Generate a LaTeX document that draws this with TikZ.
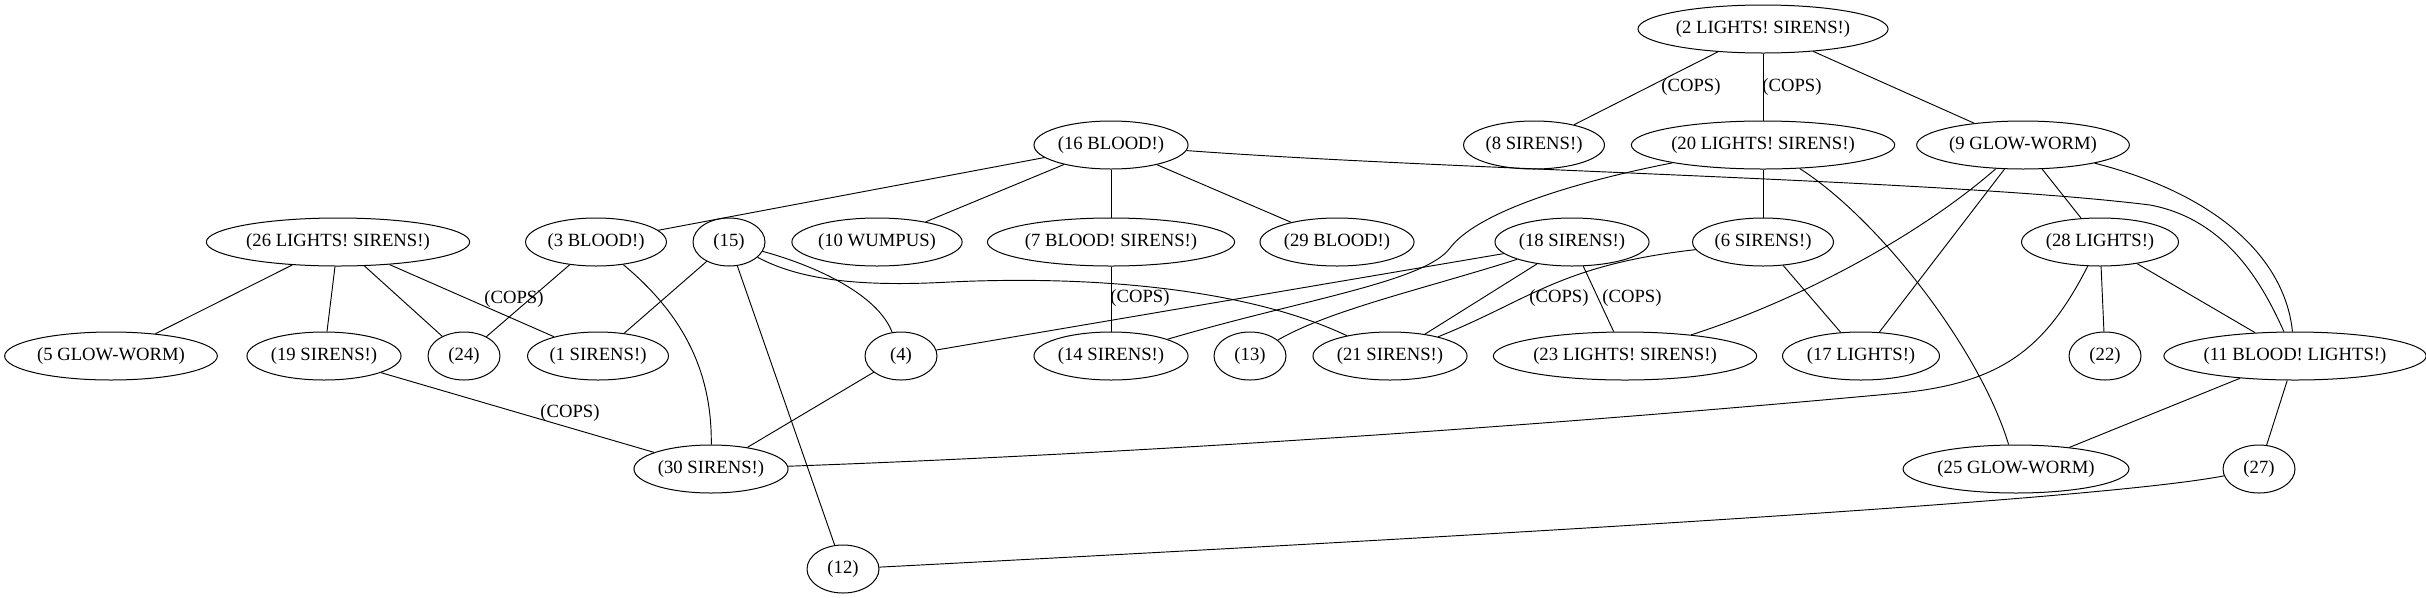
\documentclass[tikz,border=0pt]{standalone}
\usepackage{fontspec}
\setmainfont{Liberation Serif}
\usetikzlibrary{shapes.geometric}

\begin{document}
\begin{tikzpicture}[
  x=0.75pt, y=-0.75pt,
  vtx/.style={draw, ellipse, line width=0.75pt, minimum width=54pt,
              minimum height=36pt, inner sep=1pt,
              font=\fontsize{14}{16}\selectfont},
  lbl/.style={font=\fontsize{14}{16}\selectfont, inner sep=0pt},
  ln/.style={line width=0.7pt}
]
  \useasboundingbox (0,0) rectangle (2426,597);
  \node[vtx] (n2) at (1763,29) {(2 LIGHTS! SIRENS!)};
  \node[vtx] (n16) at (1111,145) {(16 BLOOD!)};
  \node[vtx] (n8) at (1534,145) {(8 SIRENS!)};
  \node[vtx] (n20) at (1763,145) {(20 LIGHTS! SIRENS!)};
  \node[vtx] (n9) at (2023,145) {(9 GLOW-WORM)};
  \node[vtx] (n26) at (338,242) {(26 LIGHTS! SIRENS!)};
  \node[vtx] (n3) at (596,242) {(3 BLOOD!)};
  \node[vtx] (n15) at (729,242) {(15)};
  \node[vtx] (n10) at (877,242) {(10 WUMPUS)};
  \node[vtx] (n7) at (1111,242) {(7 BLOOD! SIRENS!)};
  \node[vtx] (n29) at (1337,242) {(29 BLOOD!)};
  \node[vtx] (n18) at (1572,242) {(18 SIRENS!)};
  \node[vtx] (n6) at (1763,242) {(6 SIRENS!)};
  \node[vtx] (n28) at (2100,242) {(28 LIGHTS!)};
  \node[vtx] (n5) at (111,356) {(5 GLOW-WORM)};
  \node[vtx] (n19) at (324,356) {(19 SIRENS!)};
  \node[vtx] (n24) at (464,356) {(24)};
  \node[vtx] (n1) at (598,356) {(1 SIRENS!)};
  \node[vtx] (n4) at (901,356) {(4)};
  \node[vtx] (n14) at (1111,356) {(14 SIRENS!)};
  \node[vtx] (n13) at (1250,356) {(13)};
  \node[vtx] (n21) at (1390,356) {(21 SIRENS!)};
  \node[vtx] (n23) at (1625,356) {(23 LIGHTS! SIRENS!)};
  \node[vtx] (n17) at (1861,356) {(17 LIGHTS!)};
  \node[vtx] (n22) at (2105,356) {(22)};
  \node[vtx] (n11) at (2295,356) {(11 BLOOD! LIGHTS!)};
  \node[vtx] (n30) at (711,469) {(30 SIRENS!)};
  \node[vtx] (n25) at (2016,469) {(25 GLOW-WORM)};
  \node[vtx] (n27) at (2259,469) {(27)};
  \node[vtx] (n12) at (843,569) {(12)};

  \node[lbl] (c1) at (1691,87) {(COPS)};
  \node[lbl] (c2) at (1792,87) {(COPS)};
  \node[lbl] (c3) at (1140,298) {(COPS)};
  \node[lbl] (c4) at (514,299) {(COPS)};
  \node[lbl] (c5) at (570,413) {(COPS)};
  \node[lbl] (c6) at (1559,298) {(COPS)};
  \node[lbl] (c7) at (1632,298) {(COPS)};

  \draw[ln] (n2) -- (n8);
  \draw[ln] (n2) -- (n20);
  \draw[ln] (n2) -- (n9);
  \draw[ln] (n16) -- (n3);
  \draw[ln] (n16) -- (n10);
  \draw[ln] (n16) -- (n7);
  \draw[ln] (n16) -- (n29);
  \draw[ln] (n16) .. controls (1450,170) and (1950,180) .. (2150,205)
                  .. controls (2230,220) and (2265,290) .. (n11);
  \draw[ln] (n20) -- (n6);
  \draw[ln] (n20) .. controls (1560,185) and (1475,215) .. (1450,248)
                  .. controls (1425,282) and (1300,300) .. (n14);
  \draw[ln] (n20) .. controls (1880,220) and (1980,350) .. (n25);
  \draw[ln] (n9) -- (n28);
  \draw[ln] (n9) .. controls (2220,195) and (2285,260) .. (n11);
  \draw[ln] (n9) .. controls (1920,235) and (1800,300) .. (n23);
  \draw[ln] (n9) -- (n17);
  \draw[ln] (n26) -- (n5);
  \draw[ln] (n26) -- (n19);
  \draw[ln] (n26) -- (n24);
  \draw[ln] (n26) -- (n1);
  \draw[ln] (n3) -- (n24);
  \draw[ln] (n3) .. controls (690,320) and (712,380) .. (n30);
  \draw[ln] (n15) -- (n1);
  \draw[ln] (n15) -- (n12);
  \draw[ln] (n15) .. controls (830,270) and (880,300) .. (n4);
  \draw[ln] (n15) .. controls (800,280) and (860,287) .. (950,282)
                  .. controls (1100,275) and (1250,290) .. (n21);
  \draw[ln] (n7) -- (n14);
  \draw[ln] (n18) -- (n4);
  \draw[ln] (n18) .. controls (1420,290) and (1330,310) .. (n13);
  \draw[ln] (n18) -- (n21);
  \draw[ln] (n18) -- (n23);
  \draw[ln] (n6) .. controls (1560,265) and (1530,300) .. (n21);
  \draw[ln] (n6) -- (n17);
  \draw[ln] (n28) -- (n22);
  \draw[ln] (n28) -- (n11);
  \draw[ln] (n28) .. controls (2045,350) and (2000,383) .. (1900,393)
                  .. controls (1500,430) and (1100,455) .. (n30);
  \draw[ln] (n11) -- (n25);
  \draw[ln] (n11) -- (n27);
  \draw[ln] (n27) .. controls (2100,500) and (1500,535) .. (n12);
  \draw[ln] (n19) -- (n30);
  \draw[ln] (n4) -- (n30);
\end{tikzpicture}
\end{document}
